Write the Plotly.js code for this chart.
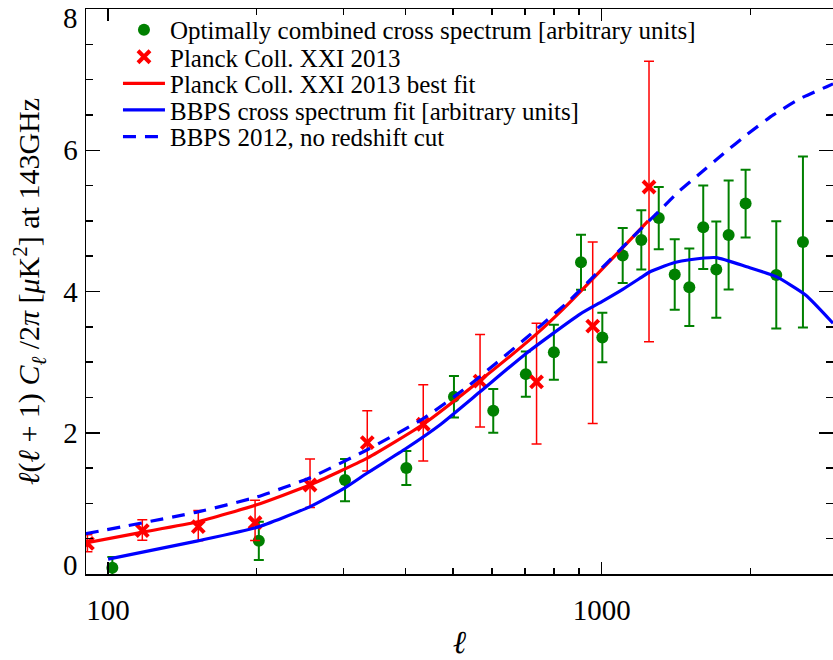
<!DOCTYPE html>
<html>
<head>
<meta charset="utf-8">
<script src="https://cdn.plot.ly/plotly-3.0.1.min.js"></script>
<style>html,body{margin:0;padding:0;background:#fff;}#chart{width:833px;height:660px;}</style>
</head>
<body>
<div id="chart"></div>
<script>
// Optimally combined cross spectrum [arbitrary units]
var greenL   = [102, 202, 302, 402, 502, 603, 702, 800, 908, 1003, 1103, 1203, 1305, 1406, 1505, 1606, 1707, 1808, 1957, 2258, 2557];
var greenY   = [0.09, 0.47, 1.33, 1.50, 2.51, 2.31, 2.83, 3.14, 4.415, 3.35, 4.51, 4.73, 5.04, 4.24, 4.06, 4.91, 4.31, 4.80, 5.245, 4.235, 4.70];
var greenErr = [0.15, 0.27, 0.30, 0.24, 0.295, 0.31, 0.32, 0.39, 0.39, 0.35, 0.39, 0.42, 0.44, 0.50, 0.55, 0.59, 0.68, 0.77, 0.48, 0.76, 1.21];

// Planck Coll. XXI 2013
var planckL      = [90.8, 117.3, 152.3, 198.5, 256.5, 335, 435, 567, 738, 959, 1247];
var planckY      = [0.434, 0.613, 0.67, 0.726, 1.26, 1.86, 2.12, 2.73, 2.72, 3.51, 5.48];
var planckErrUp  = [0.12, 0.155, 0.23, 0.32, 0.37, 0.45, 0.56, 0.66, 0.83, 1.19, 1.78];
var planckErrLo  = [0.12, 0.135, 0.20, 0.25, 0.32, 0.40, 0.52, 0.65, 0.88, 1.38, 2.19];

// Planck Coll. XXI 2013 best fit
var planckFitL = [90, 117, 152, 200, 256, 335, 435, 567, 738, 849, 1089, 1242];
var planckFitY = [0.44, 0.59, 0.74, 0.98, 1.26, 1.64, 2.12, 2.74, 3.40, 3.80, 4.58, 5.00];

// BBPS cross spectrum fit [arbitrary units]
var bbpsL = [100, 152, 200, 256, 302, 335, 402, 470, 567, 702, 904, 1003, 1103, 1203, 1253, 1305, 1406, 1508, 1706, 1967, 2257, 2589, 2942];
var bbpsY = [0.21, 0.47, 0.66, 0.95, 1.22, 1.43, 1.78, 2.11, 2.58, 3.12, 3.68, 3.86, 4.03, 4.20, 4.28, 4.33, 4.41, 4.45, 4.48, 4.35, 4.21, 3.95, 3.55];

// BBPS 2012, no redshift cut
var bbps12L = [90, 152, 200, 256, 335, 435, 534, 700, 863, 1000, 1100, 1247, 1313, 1419, 1582, 1764, 1967, 2227, 2522, 2857, 2942];
var bbps12Y = [0.57, 0.88, 1.09, 1.36, 1.76, 2.20, 2.65, 3.33, 3.88, 4.33, 4.62, 5.00, 5.15, 5.39, 5.67, 5.95, 6.22, 6.50, 6.73, 6.90, 6.94];

var xMajor = [100, 1000];
var xMajorText = ['100', '1000'];
var xMinor = [200, 300, 400, 500, 600, 700, 800, 900, 2000];
var yMajor = [0, 2, 4, 6, 8];
var yMajorText = ['', '2', '4', '6', ''];   // end labels "0" and "8" are set inside the frame below
var yEndLabels = [{text: '0', value: 0}, {text: '8', value: 8}];
var xRange = [90.2, 2942];
var yRange = [0, 8];

var serif = 'Liberation Serif';
var legFont = {family: serif, size: 25, color: '#000000'};

function leg(yPaper) {
  return {x: 0.0428, y: yPaper, xanchor: 'left', yanchor: 'middle', itemwidth: 42,
          bgcolor: 'rgba(0,0,0,0)', borderwidth: 0, font: legFont};
}

var annots = yEndLabels.map(function (d) {
  return {xref: 'paper', yref: 'y', x: 0, y: d.value, xanchor: 'right',
          yanchor: d.value === 0 ? 'bottom' : 'top', xshift: -6, yshift: d.value === 0 ? -9 : 9,
          showarrow: false, text: d.text, font: {family: serif, size: 29, color: '#000'}};
});

var traces = [
  {
    x: greenL, y: greenY, type: 'scatter', mode: 'markers',
    name: 'Optimally combined cross spectrum [arbitrary units]', legend: 'legend',
    marker: {color: '#008000', size: 12, symbol: 'circle'},
    error_y: {type: 'data', array: greenErr, visible: true, color: '#008000', thickness: 2, width: 5}
  },
  {
    x: planckL, y: planckY, type: 'scatter', mode: 'markers',
    name: 'Planck Coll. XXI 2013', legend: 'legend2',
    marker: {color: '#ff0000', size: 12, symbol: 'x-thin', line: {color: '#ff0000', width: 4}},
    error_y: {type: 'data', symmetric: false, array: planckErrUp, arrayminus: planckErrLo, visible: true, color: '#ff0000', thickness: 1.5, width: 5}
  },
  {
    x: planckFitL, y: planckFitY, type: 'scatter', mode: 'lines',
    name: 'Planck Coll. XXI 2013 best fit', legend: 'legend3',
    line: {color: '#ff0000', width: 3.2, shape: 'spline', smoothing: 0.5}
  },
  {
    x: bbpsL, y: bbpsY, type: 'scatter', mode: 'lines',
    name: 'BBPS cross spectrum fit [arbitrary units]', legend: 'legend4',
    line: {color: '#0000ff', width: 3.2, shape: 'spline', smoothing: 0.5}
  },
  {
    x: bbps12L, y: bbps12Y, type: 'scatter', mode: 'lines',
    name: 'BBPS 2012, no redshift cut', legend: 'legend5',
    line: {color: '#0000ff', width: 3.2, dash: '13px,9px', shape: 'spline', smoothing: 0.5}
  }
];

var layout = {
  width: 833, height: 660,
  margin: {l: 86, r: 0, t: 9, b: 86},
  paper_bgcolor: '#ffffff', plot_bgcolor: '#ffffff',
  font: {family: serif, color: '#000000', size: 21},
  showlegend: true,
  annotations: annots,
  legend: leg(0.963),
  legend2: leg(0.915),
  legend3: leg(0.868),
  legend4: leg(0.821),
  legend5: leg(0.7735),
  xaxis: {
    type: 'log',
    range: [Math.log10(xRange[0]), Math.log10(xRange[1])],
    tickmode: 'array', tickvals: xMajor, ticktext: xMajorText,
    ticks: 'inside', ticklen: 12, tickwidth: 1.5, tickcolor: '#000',
    minor: {tickmode: 'array', tickvals: xMinor, ticks: 'inside', ticklen: 6, tickwidth: 1.5, tickcolor: '#000', showgrid: false},
    showline: true, linecolor: '#000', linewidth: 1.5, mirror: 'ticks',
    showgrid: false, zeroline: false,
    tickfont: {family: serif, size: 29, color: '#000'},
    ticklabelstandoff: 10,
    title: {text: '<i>ℓ</i>', font: {family: serif, size: 32, color: '#000'}, standoff: 6}
  },
  yaxis: {
    range: yRange,
    tickmode: 'array', tickvals: yMajor, ticktext: yMajorText,
    ticks: 'inside', ticklen: 14, tickwidth: 1.5, tickcolor: '#000',
    minor: {tickmode: 'linear', tick0: 0, dtick: 0.5, ticks: 'inside', ticklen: 7, tickwidth: 1.5, tickcolor: '#000', showgrid: false},
    showline: true, linecolor: '#000', linewidth: 1.5, mirror: 'ticks',
    showgrid: false, zeroline: false,
    tickfont: {family: serif, size: 29, color: '#000'},
    ticklabelstandoff: 1,
    title: {text: '<i>ℓ</i>(<i>ℓ</i> + 1) <i>C</i><sub><i>ℓ</i></sub> /2<i>π</i> [<i>μ</i>K<sup>2</sup>] at 143GHz', font: {family: serif, size: 30, color: '#000'}, standoff: 14}
  }
};

Plotly.newPlot('chart', traces, layout, {displayModeBar: false, staticPlot: true});
</script>
</body>
</html>
